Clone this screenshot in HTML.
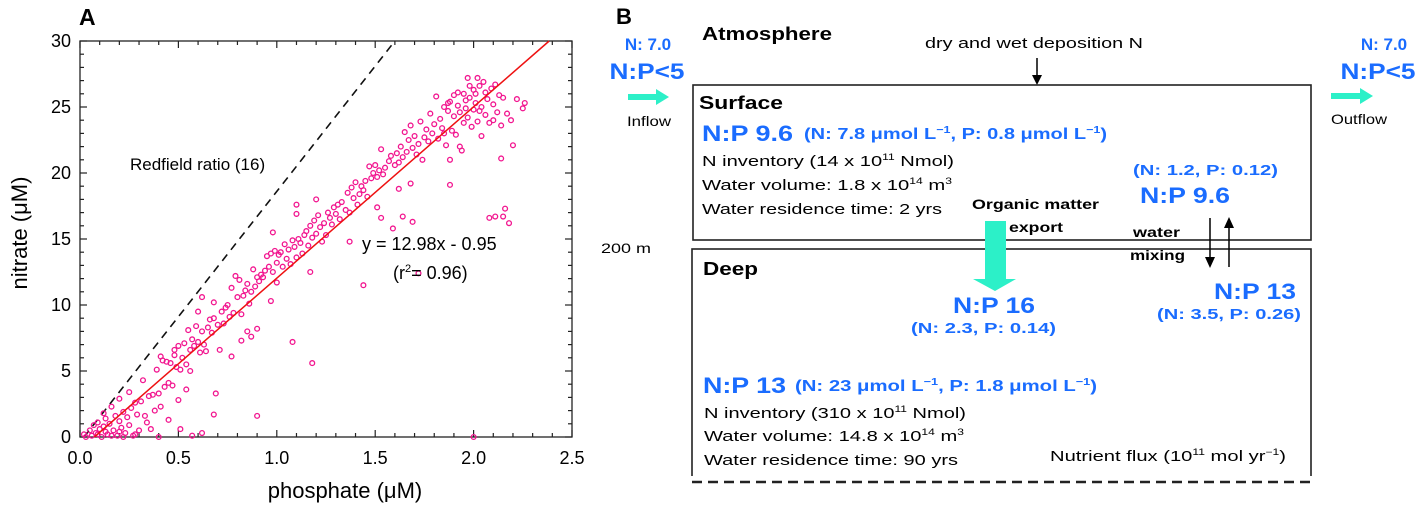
<!DOCTYPE html>
<html><head><meta charset="utf-8"><style>
html,body{margin:0;padding:0;background:#fff;}
svg{display:block;font-family:"Liberation Sans",Arial,sans-serif;}
.b{fill:#1a6cff;font-weight:bold;}
</style></head><body>
<svg id="fig" width="1417" height="511" viewBox="0 0 1417 511" xmlns="http://www.w3.org/2000/svg">
<g id="panelA">
  <text x="79" y="25" font-size="23" font-weight="bold">A</text>
  <rect x="80" y="41" width="492" height="396" fill="none" stroke="#222" stroke-width="1.3"/>
  <g id="ticks"></g>
  <g id="marks"></g>
  <text x="130" y="170" font-size="17">Redfield ratio (16)</text>
  <text x="362" y="250" font-size="18">y = 12.98x - 0.95</text>
  <text x="393" y="279" font-size="18">(r<tspan font-size="11" dy="-7">2</tspan><tspan dy="7">= 0.96)</tspan></text>
  <text x="345" y="498" font-size="22" text-anchor="middle">phosphate (μM)</text>
  <text transform="translate(27,233) rotate(-90)" font-size="22" text-anchor="middle">nitrate (μM)</text>
</g>

<g id="panelB">
  <text x="616" y="24" font-size="22" font-weight="bold">B</text>
  <text x="702" y="40" font-size="18" font-weight="bold" textLength="130" lengthAdjust="spacingAndGlyphs">Atmosphere</text>
  <text x="925" y="48" font-size="15" textLength="218" lengthAdjust="spacingAndGlyphs">dry and wet deposition N</text>
  <line x1="1037" y1="58" x2="1037" y2="80" stroke="#000" stroke-width="1.5"/>
  <polygon points="1032,75 1042,75 1037,85" fill="#000"/>

  <text x="648" y="50" font-size="17" class="b" text-anchor="middle">N: 7.0</text>
  <text x="647" y="79" font-size="22" class="b" text-anchor="middle" textLength="75" lengthAdjust="spacingAndGlyphs">N:P&lt;5</text>
  <polygon points="628,94 656,94 656,89 669,97 656,105 656,100 628,100" fill="#2cf0c8"/>
  <text x="627" y="126" font-size="14" textLength="44" lengthAdjust="spacingAndGlyphs">Inflow</text>

  <text x="1384" y="50" font-size="17" class="b" text-anchor="middle">N: 7.0</text>
  <text x="1378" y="79" font-size="22" class="b" text-anchor="middle" textLength="75" lengthAdjust="spacingAndGlyphs">N:P&lt;5</text>
  <polygon points="1331,93 1360,93 1360,88 1373,96 1360,104 1360,99 1331,99" fill="#2cf0c8"/>
  <text x="1331" y="124" font-size="14" textLength="56" lengthAdjust="spacingAndGlyphs">Outflow</text>

  <rect x="693" y="85" width="618" height="155" fill="none" stroke="#222" stroke-width="1.6"/>
  <rect x="692" y="249" width="619" height="231" fill="none" stroke="#222" stroke-width="1.6"/>
  <rect x="690" y="476" width="623" height="10" fill="#fff"/>
  <line x1="692" y1="482" x2="1311" y2="482" stroke="#222" stroke-width="2.5" stroke-dasharray="10,6"/>

  <text x="699" y="109" font-size="18" font-weight="bold" textLength="84" lengthAdjust="spacingAndGlyphs">Surface</text>
  <text x="702" y="141" font-size="22" class="b" textLength="91" lengthAdjust="spacingAndGlyphs">N:P 9.6</text>
  <text x="804" y="139" font-size="16" class="b" textLength="303" lengthAdjust="spacingAndGlyphs">(N: 7.8 μmol L<tspan font-size="10" dy="-6">−1</tspan><tspan dy="6">, P: 0.8 μmol L</tspan><tspan font-size="10" dy="-6">−1</tspan><tspan dy="6">)</tspan></text>
  <text x="702" y="166" font-size="15" textLength="252" lengthAdjust="spacingAndGlyphs">N inventory (14 x 10<tspan font-size="9" dy="-6">11</tspan><tspan dy="6"> Nmol)</tspan></text>
  <text x="702" y="190" font-size="15" textLength="250" lengthAdjust="spacingAndGlyphs">Water volume: 1.8 x 10<tspan font-size="9" dy="-6">14</tspan><tspan dy="6"> m</tspan><tspan font-size="9" dy="-6">3</tspan></text>
  <text x="702" y="214" font-size="15" textLength="240" lengthAdjust="spacingAndGlyphs">Water residence time: 2 yrs</text>

  <text x="972" y="209" font-size="14" font-weight="bold" textLength="127" lengthAdjust="spacingAndGlyphs">Organic matter</text>
  <text x="1009" y="232" font-size="14" font-weight="bold" textLength="54" lengthAdjust="spacingAndGlyphs">export</text>
  <polygon points="985,221 1006,221 1006,279 1016,279 995,291 973,279 985,279" fill="#2cf0c8"/>

  <text x="1133" y="175" font-size="15" class="b" textLength="145" lengthAdjust="spacingAndGlyphs">(N: 1.2, P: 0.12)</text>
  <text x="1140" y="203" font-size="22" class="b" textLength="90" lengthAdjust="spacingAndGlyphs">N:P 9.6</text>
  <text x="1133" y="237" font-size="14" font-weight="bold" textLength="47" lengthAdjust="spacingAndGlyphs">water</text>
  <text x="1130" y="260" font-size="14" font-weight="bold" textLength="55" lengthAdjust="spacingAndGlyphs">mixing</text>
  <line x1="1210" y1="218" x2="1210" y2="260" stroke="#000" stroke-width="1.5"/>
  <polygon points="1205,257 1215,257 1210,268" fill="#000"/>
  <line x1="1229" y1="267" x2="1229" y2="225" stroke="#000" stroke-width="1.5"/>
  <polygon points="1224,228 1234,228 1229,217" fill="#000"/>

  <text x="601" y="253" font-size="14" textLength="50" lengthAdjust="spacingAndGlyphs">200 m</text>
  <text x="703" y="275" font-size="18" font-weight="bold" textLength="55" lengthAdjust="spacingAndGlyphs">Deep</text>

  <text x="953" y="313" font-size="22" class="b" textLength="82" lengthAdjust="spacingAndGlyphs">N:P 16</text>
  <text x="911" y="333" font-size="15" class="b" textLength="145" lengthAdjust="spacingAndGlyphs">(N: 2.3, P: 0.14)</text>
  <text x="1214" y="299" font-size="22" class="b" textLength="82" lengthAdjust="spacingAndGlyphs">N:P 13</text>
  <text x="1157" y="319" font-size="15" class="b" textLength="144" lengthAdjust="spacingAndGlyphs">(N: 3.5, P: 0.26)</text>

  <text x="703" y="393" font-size="22" class="b" textLength="83" lengthAdjust="spacingAndGlyphs">N:P 13</text>
  <text x="795" y="391" font-size="16" class="b" textLength="302" lengthAdjust="spacingAndGlyphs">(N: 23 μmol L<tspan font-size="10" dy="-6">−1</tspan><tspan dy="6">, P: 1.8 μmol L</tspan><tspan font-size="10" dy="-6">−1</tspan><tspan dy="6">)</tspan></text>
  <text x="704" y="418" font-size="15" textLength="262" lengthAdjust="spacingAndGlyphs">N inventory (310 x 10<tspan font-size="9" dy="-6">11</tspan><tspan dy="6"> Nmol)</tspan></text>
  <text x="704" y="441" font-size="15" textLength="260" lengthAdjust="spacingAndGlyphs">Water volume: 14.8 x 10<tspan font-size="9" dy="-6">14</tspan><tspan dy="6"> m</tspan><tspan font-size="9" dy="-6">3</tspan></text>
  <text x="704" y="465" font-size="15" textLength="254" lengthAdjust="spacingAndGlyphs">Water residence time: 90 yrs</text>
  <text x="1050" y="461" font-size="15" textLength="236" lengthAdjust="spacingAndGlyphs">Nutrient flux (10<tspan font-size="9" dy="-6">11</tspan><tspan dy="6"> mol yr</tspan><tspan font-size="9" dy="-6">−1</tspan><tspan dy="6">)</tspan></text>
</g>
</svg>
<script>
const phosphate = [0.02,0.03,0.05,0.06,0.07,0.08,0.09,0.1,0.11,0.12,0.12,0.13,0.14,0.15,0.16,0.17,0.18,0.19,0.2,0.2,0.21,0.22,0.23,0.24,0.25,0.25,0.26,0.27,0.28,0.29,0.3,0.31,0.32,0.33,0.34,0.35,0.36,0.37,0.38,0.39,0.4,0.4,0.41,0.41,0.42,0.43,0.44,0.45,0.46,0.47,0.48,0.49,0.5,0.5,0.51,0.52,0.53,0.54,0.55,0.56,0.57,0.58,0.59,0.6,0.61,0.62,0.63,0.64,0.65,0.66,0.67,0.68,0.7,0.71,0.72,0.73,0.74,0.75,0.76,0.77,0.78,0.79,0.8,0.81,0.82,0.83,0.84,0.85,0.86,0.87,0.88,0.89,0.9,0.91,0.92,0.93,0.94,0.95,0.96,0.97,0.98,0.99,1.0,1.0,1.01,1.02,1.03,1.04,1.05,1.06,1.07,1.08,1.09,1.1,1.11,1.12,1.13,1.14,1.15,1.16,1.17,1.18,1.19,1.2,1.21,1.22,1.23,1.24,1.25,1.26,1.27,1.28,1.29,1.3,1.31,1.32,1.33,1.35,1.36,1.37,1.38,1.39,1.4,1.41,1.42,1.43,1.44,1.45,1.46,1.47,1.48,1.49,1.5,1.51,1.52,1.53,1.54,1.55,1.57,1.58,1.6,1.61,1.62,1.63,1.64,1.65,1.66,1.67,1.68,1.69,1.7,1.71,1.72,1.73,1.74,1.75,1.76,1.77,1.78,1.79,1.8,1.81,1.82,1.83,1.84,1.85,1.86,1.87,1.88,1.89,1.9,1.9,1.91,1.92,1.93,1.94,1.95,1.95,1.96,1.97,1.97,1.98,1.99,2.0,2.0,2.01,2.02,2.02,2.03,2.04,2.04,2.05,2.06,2.06,2.07,2.08,2.09,2.1,2.1,2.11,2.12,2.13,2.14,2.15,2.17,1.93,1.85,1.88,1.96,2.01,1.92,1.87,1.98,2.03,0.16,0.22,0.28,0.13,0.2,0.09,
0.97,1.08,1.18,0.9,0.68,0.69,0.62,0.57,0.51,0.45,2.0,1.44,1.37,1.17,1.51,1.53,1.59,1.64,1.69,1.72,2.08,2.11,2.15,2.16,2.18,1.88,1.68,1.62,2.2,2.14,2.26,2.25,2.22,2.19,0.98,1.1,1.1,1.2,0.48,0.54,0.56,0.77,0.82,0.87,0.85,0.9,0.6,0.62,0.68];
const nitrate = [0.2,0,0.5,0.1,0.9,0.3,1.1,0.6,0,1.8,0.8,1.4,0.2,1.0,2.3,0.5,1.6,0.1,2.9,1.2,0.7,1.9,0.3,1.5,3.4,0.9,2.2,0.1,2.6,1.7,0.5,2.7,4.3,1.6,1.1,3.1,0.6,3.2,2.0,5.1,0,3.3,6.1,2.3,5.8,3.8,5.7,4.1,5.6,3.9,6.6,5.3,6.9,2.8,5.1,6.0,7.1,5.5,8.1,6.6,7.4,6.9,8.4,7.2,6.4,8.0,7.0,6.5,8.3,8.9,7.9,9.0,8.5,6.6,9.5,8.6,9.8,10.0,9.1,11.3,9.4,12.2,10.6,11.9,9.3,10.7,11.1,11.6,10.1,11.0,12.7,11.4,12.1,11.8,12.3,12.1,12.6,13.7,12.9,13.9,12.5,14.1,11.7,13.2,13.8,14.0,12.9,14.6,13.5,14.2,13.1,14.9,14.4,13.6,15.0,14.7,13.9,15.3,15.6,14.5,16.0,15.1,16.4,15.4,16.8,15.9,14.8,16.2,15.3,17.0,16.6,16.1,17.4,16.9,17.6,16.5,17.8,17.2,18.5,17.0,18.9,18.1,19.3,17.6,18.4,19.0,18.7,19.4,18.2,20.5,19.6,20.0,20.6,19.7,20.2,21.8,19.9,20.4,20.9,21.3,20.6,21.5,20.8,22.0,21.2,23.1,21.6,22.5,23.6,21.9,22.8,21.4,22.2,23.9,21.0,22.7,23.3,22.4,24.5,23.0,23.7,25.8,22.6,24.1,23.4,25.0,22.1,24.7,25.4,23.2,25.9,24.3,22.9,25.1,24.6,21.7,26.0,23.8,25.5,27.2,24.2,25.7,23.5,26.3,24.8,25.3,27.2,23.9,26.6,25.0,22.8,26.9,24.4,26.1,25.6,23.8,26.4,25.2,24.0,26.7,24.6,25.9,23.6,25.7,24.5,22.0,23.0,21.0,24.9,26.0,26.1,25.3,26.6,24.7,0.1,0.0,0.2,0.4,0.4,0.2,
10.3,7.2,5.6,1.6,1.7,3.3,0.3,0.1,0.6,1.3,0,11.5,14.8,12.5,17.4,16.6,15.8,16.7,16.3,12.4,16.6,16.7,16.7,17.3,16.2,19.1,19.2,18.8,22.1,21.1,25.3,24.9,25.6,24.0,15.5,17.6,16.9,18.0,6.2,3.6,5.0,6.1,7.3,7.6,8.0,8.2,9.5,10.6,10.2];
const fitLine = [[0.073,0],[2.384,30]];
const redfieldLine = [[0.02,0],[1.6,30]];
const xTicks = [0,0.5,1.0,1.5,2.0,2.5];
const xTickLabels = ["0.0","0.5","1.0","1.5","2.0","2.5"];
const yTicks = [0,5,10,15,20,25,30];
const yTickLabels = ["0","5","10","15","20","25","30"];

const NS = "http://www.w3.org/2000/svg";
const X0=80, X1=572, Y0=437, Y1=41;
function sx(v){return X0+(v/2.5)*(X1-X0);}
function sy(v){return Y0-(v/30)*(Y0-Y1);}
function mk(tag,attrs,parent){const e=document.createElementNS(NS,tag);for(const k in attrs)e.setAttribute(k,attrs[k]);parent.appendChild(e);return e;}

const tg=document.getElementById('ticks');
for(let i=0;i<=25;i++){
  const v=i*0.1, x=sx(v), len=(i%5===0)?7:4;
  const t1=mk('line',{x1:x,y1:Y0,x2:x,y2:Y0-len,stroke:'#222','stroke-width':1.2},tg);
  
  
  mk('line',{x1:x,y1:Y1,x2:x,y2:Y1+len,stroke:'#222','stroke-width':1.2},tg);
}
for(let i=0;i<=30;i++){
  const y=sy(i), len=(i%5===0)?7:4;
  const t2=mk('line',{x1:X0,y1:y,x2:X0+len,y2:y,stroke:'#222','stroke-width':1.2},tg);
  
  
  mk('line',{x1:X1,y1:y,x2:X1-len,y2:y,stroke:'#222','stroke-width':1.2},tg);
}
xTicks.forEach((v,i)=>{
  const t=mk('text',{x:sx(v),y:Y0+27,'font-size':18,'text-anchor':'middle'},tg);
  t.textContent=xTickLabels[i];
  
  
});
yTicks.forEach((v,i)=>{
  const t=mk('text',{x:X0-9,y:sy(v)+6,'font-size':18,'text-anchor':'end'},tg);
  t.textContent=yTickLabels[i];
  
  
});

const mg=document.getElementById('marks');
const rl=mk('line',{x1:sx(redfieldLine[0][0]),y1:sy(redfieldLine[0][1]),x2:sx(redfieldLine[1][0]),y2:sy(redfieldLine[1][1]),stroke:'#111','stroke-width':1.6,'stroke-dasharray':'8,6'},mg);


for(let i=0;i<phosphate.length;i++){
  const c=mk('circle',{cx:sx(phosphate[i]),cy:sy(nitrate[i]),r:2.4,fill:'none',stroke:'#f2158f','stroke-width':1.3},mg);
  
  
}
const fl=mk('line',{x1:sx(fitLine[0][0]),y1:sy(fitLine[0][1]),x2:sx(fitLine[1][0]),y2:sy(fitLine[1][1]),stroke:'#ee1111','stroke-width':1.5},mg);


</script>
</body></html>
